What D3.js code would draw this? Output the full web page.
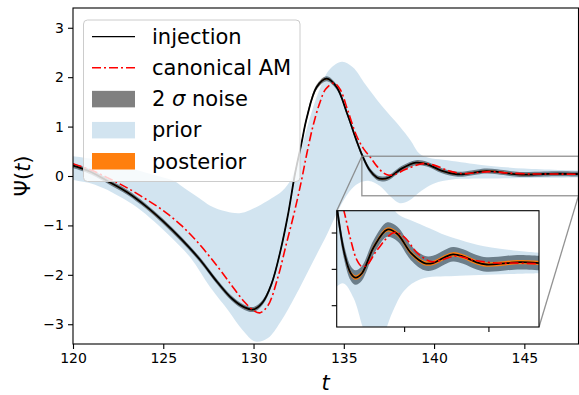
<!DOCTYPE html>
<html>
<head>
<meta charset="utf-8">
<script src="https://cdn.jsdelivr.net/npm/d3@7"></script>
<style>
  body { margin: 0; background: #fff; }
  svg { display: block; }
  text { font-family: "DejaVu Sans", sans-serif; }
</style>
</head>
<body>
<svg id="chart" width="579" height="395"></svg>
<script>
// injection waveform
var injT = [120, 121, 122, 123, 124, 125, 126, 127, 128, 128.8, 129.5, 130, 130.5, 131, 131.5, 131.9, 132.3, 132.65, 132.95, 133.5, 134.05, 134.6, 135.2, 135.7, 136.04, 136.43, 136.83, 137.12, 137.5, 138.2, 139, 139.6, 140.4, 141.2, 141.7, 142.4, 142.9, 143.5, 144.3, 144.9, 146.1, 146.9, 148];
var injV = [0.21, 0.08, -0.12, -0.33, -0.6, -0.92, -1.28, -1.68, -2.15, -2.48, -2.66, -2.7, -2.56, -2.18, -1.5, -0.8, 0.05, 0.65, 1.18, 1.8, 1.97, 1.8, 1.25, 0.72, 0.4, 0.12, -0.03, -0.06, -0.03, 0.15, 0.27, 0.24, 0.11, 0.04, 0.04, 0.08, 0.1, 0.085, 0.045, 0.03, 0.04, 0.046, 0.04];

// canonical AM waveform
var amT = [120, 121, 122, 123, 124, 125, 126, 127, 128, 128.8, 129.5, 130, 130.35, 130.8, 131.35, 131.8, 132.25, 132.65, 132.95, 133.3, 133.66, 134, 134.45, 134.8, 135.2, 135.7, 136.1, 136.47, 136.83, 137.2, 137.5, 137.8, 138.4, 139.4, 140, 140.8, 141.6, 142.2, 143.1, 144.1, 145.5, 146.5, 148];
var amV = [0.25, 0.12, -0.05, -0.24, -0.46, -0.7, -1.0, -1.38, -1.83, -2.22, -2.55, -2.72, -2.77, -2.62, -2.05, -1.4, -0.75, -0.1, 0.45, 1.02, 1.47, 1.76, 1.88, 1.75, 1.35, 0.82, 0.55, 0.38, 0.2, 0.06, 0.016, 0.027, 0.13, 0.25, 0.22, 0.107, 0.05, 0.06, 0.089, 0.06, 0.04, 0.04, 0.035];

// prior band edges
var priorHiT = [120, 121, 122, 123, 124, 125, 125.6, 126.3, 127, 127.6, 128.5, 129.3, 130.2, 131, 131.6, 132.1, 132.6, 133.1, 133.6, 134.2, 134.9, 135.5, 136.2, 137.1, 138.1, 138.7, 139.2, 139.7, 140.5, 141.5, 142.5, 145, 148];
var priorHiV = [0.4, 0.35, 0.28, 0.18, 0.07, -0.03, -0.1, -0.28, -0.45, -0.6, -0.72, -0.75, -0.62, -0.45, -0.3, -0.05, 0.5, 1.15, 1.7, 2.15, 2.31, 2.2, 1.85, 1.42, 1.0, 0.72, 0.45, 0.37, 0.33, 0.28, 0.23, 0.15, 0.11];
var priorLoT = [120, 121, 121.7, 122.6, 123.5, 124.5, 125.4, 126.5, 127.6, 128.6, 129.4, 130.1, 130.8, 131.5, 132.3, 133.2, 134.1, 134.7, 135.3, 135.8, 136.4, 137, 137.6, 138.1, 138.6, 139.3, 140, 141, 143, 148];
var priorLoV = [-0.08, -0.15, -0.25, -0.42, -0.62, -0.92, -1.23, -1.65, -2.25, -2.72, -3.12, -3.35, -3.28, -2.95, -2.44, -1.8, -1.16, -0.69, -0.32, -0.15, -0.1, -0.2, -0.42, -0.55, -0.5, -0.3, -0.15, -0.07, -0.05, -0.03];

// half widths of the 2 sigma noise and posterior bands around the injection
var noiseHalf = 0.05;
var postHalf = 0.015;

var xTicks = [120, 125, 130, 135, 140, 145];
var yTicks = [-3, -2, -1, 0, 1, 2, 3];
var insetXTicks = [140, 145];
var insetYTicks = [-0.25, 0, 0.25];
var legendLabels = ["injection", "canonical AM", "2 σ noise", "prior", "posterior"];

var svg = d3.select("#chart");

var x = d3.scaleLinear().domain([120, 148]).range([73, 578.5]);
var y = d3.scaleLinear().domain([-3.4, 3.4]).range([344, 8]);

// inset axes
var ix = d3.scaleLinear().domain([136, 148]).range([336.7, 539]);
var iy = d3.scaleLinear().domain([-0.4, 0.4]).range([327, 210.7]);

var defs = svg.append("defs");
defs.append("clipPath").attr("id", "mainClip").append("rect")
  .attr("x", 73).attr("y", 8).attr("width", 578.5 - 73).attr("height", 336);
defs.append("clipPath").attr("id", "insetClip").append("rect")
  .attr("x", 336.7).attr("y", 210.7).attr("width", 539 - 336.7).attr("height", 327 - 210.7);

var smooth = d3.curveCatmullRom.alpha(0.5);

function bandPath(sx, sy) {
  var line = d3.line().x(function(d) { return sx(d[0]); }).y(function(d) { return sy(d[1]); }).curve(smooth);
  var top = line(d3.zip(priorHiT, priorHiV));
  var bottom = line(d3.zip(priorLoT, priorLoV).reverse());
  return top + bottom.replace(/^M/, "L") + "Z";
}

function drawCurves(g, sx, sy) {
  var inj = d3.zip(injT, injV);
  var area = d3.area().x(function(d) { return sx(d[0]); }).curve(smooth);

  // noise band
  area.y0(function(d) { return sy(d[1] - noiseHalf); }).y1(function(d) { return sy(d[1] + noiseHalf); });
  g.append("path").attr("d", area(inj)).attr("fill", "#808080");

  // prior band
  g.append("path").attr("d", bandPath(sx, sy)).attr("fill", "#1f77b4").attr("fill-opacity", 0.2);

  // posterior band
  area.y0(function(d) { return sy(d[1] - postHalf); }).y1(function(d) { return sy(d[1] + postHalf); });
  g.append("path").attr("d", area(inj)).attr("fill", "#ff7f0e");

  var line = d3.line().x(function(d) { return sx(d[0]); }).y(function(d) { return sy(d[1]); }).curve(smooth);
  g.append("path").attr("d", line(inj))
    .attr("fill", "none").attr("stroke", "#000").attr("stroke-width", 1.8);
  g.append("path").attr("d", line(d3.zip(amT, amV)))
    .attr("fill", "none").attr("stroke", "#ff0000").attr("stroke-width", 1.6)
    .attr("stroke-dasharray", "9,3,2,3");
}

// main panel
var main = svg.append("g").attr("clip-path", "url(#mainClip)");
drawCurves(main, x, y);

// zoom indicator
var zr = svg.append("g").attr("stroke", "#7f7f7f").attr("stroke-opacity", 0.85).attr("stroke-width", 1.3).attr("fill", "none");
zr.append("rect")
  .attr("x", x(136)).attr("y", y(0.4))
  .attr("width", x(148) - x(136)).attr("height", y(-0.4) - y(0.4));
zr.append("line").attr("x1", x(136)).attr("y1", y(0.4)).attr("x2", ix(136)).attr("y2", iy(0.4));
zr.append("line").attr("x1", x(148)).attr("y1", y(-0.4)).attr("x2", ix(148)).attr("y2", iy(-0.4));

// main axes
svg.append("rect").attr("x", 73).attr("y", 8).attr("width", 578.5 - 73).attr("height", 336)
  .attr("fill", "none").attr("stroke", "#000").attr("stroke-width", 1.1);

var xAxis = svg.append("g").attr("transform", "translate(0,344)")
  .call(d3.axisBottom(x).tickValues(xTicks).tickSize(5).tickPadding(4).tickFormat(d3.format("d")));
var yAxis = svg.append("g").attr("transform", "translate(73,0)")
  .call(d3.axisLeft(y).tickValues(yTicks).tickSize(5).tickPadding(4)
    .tickFormat(function(d) { return d < 0 ? "\u2212" + Math.abs(d) : d; }));
[xAxis, yAxis].forEach(function(a) {
  a.select(".domain").remove();
  a.selectAll(".tick line").attr("stroke", "#000").attr("stroke-width", 1.1);
  a.selectAll(".tick text").attr("font-size", 14).attr("fill", "#000")
    .attr("font-family", "DejaVu Sans, sans-serif");
});

svg.append("text").attr("x", 325.7).attr("y", 390)
  .attr("text-anchor", "middle").attr("font-size", 21).attr("font-style", "italic").text("t");
svg.append("text").attr("transform", "translate(30,176) rotate(-90)")
  .attr("text-anchor", "middle").attr("font-size", 21)
  .text("Ψ(").append("tspan").attr("font-style", "italic").text("t")
  .select(function() { return this.parentNode; }).append("tspan").text(")");

// legend
var lg = svg.append("g");
lg.append("rect").attr("x", 83.5).attr("y", 20).attr("width", 216.5).attr("height", 161.5)
  .attr("rx", 4).attr("fill", "#fff").attr("fill-opacity", 0.8)
  .attr("stroke", "#cccccc").attr("stroke-width", 1);
var rowY = d3.scaleLinear().domain([0, 4]).range([36.7, 161]);
legendLabels.forEach(function(label, i) {
  var cy = rowY(i);
  if (i === 0) {
    lg.append("line").attr("x1", 92).attr("x2", 135).attr("y1", cy).attr("y2", cy)
      .attr("stroke", "#000").attr("stroke-width", 1.3);
  } else if (i === 1) {
    lg.append("line").attr("x1", 92).attr("x2", 135).attr("y1", cy).attr("y2", cy)
      .attr("stroke", "#ff0000").attr("stroke-width", 1.6).attr("stroke-dasharray", "9,3,2,3");
  } else {
    var fills = { 2: ["#808080", 1], 3: ["#1f77b4", 0.2], 4: ["#ff7f0e", 1] };
    lg.append("rect").attr("x", 92).attr("y", cy - 8).attr("width", 43).attr("height", 16.5)
      .attr("fill", fills[i][0]).attr("fill-opacity", fills[i][1]);
  }
  var t = lg.append("text").attr("x", 152).attr("y", cy + 7.5).attr("font-size", 21).attr("fill", "#000");
  if (i === 2) {
    t.append("tspan").text("2 ");
    t.append("tspan").attr("font-style", "italic").text("σ");
    t.append("tspan").text(" noise");
  } else {
    t.text(label);
  }
});

// inset
svg.append("rect").attr("x", 336.7).attr("y", 210.7).attr("width", 539 - 336.7).attr("height", 327 - 210.7)
  .attr("fill", "#fff");
var inset = svg.append("g").attr("clip-path", "url(#insetClip)");
drawCurves(inset, ix, iy);
svg.append("rect").attr("x", 336.7).attr("y", 210.7).attr("width", 539 - 336.7).attr("height", 327 - 210.7)
  .attr("fill", "none").attr("stroke", "#000").attr("stroke-width", 1.1);

var ixAxis = svg.append("g").attr("transform", "translate(0,327)")
  .call(d3.axisBottom(ix).tickValues(insetXTicks).tickSize(5).tickFormat(""));
var iyAxis = svg.append("g").attr("transform", "translate(336.7,0)")
  .call(d3.axisLeft(iy).tickValues(insetYTicks).tickSize(5).tickFormat(""));
[ixAxis, iyAxis].forEach(function(a) {
  a.select(".domain").remove();
  a.selectAll(".tick line").attr("stroke", "#000").attr("stroke-width", 1.1);
});
</script>
</body>
</html>
